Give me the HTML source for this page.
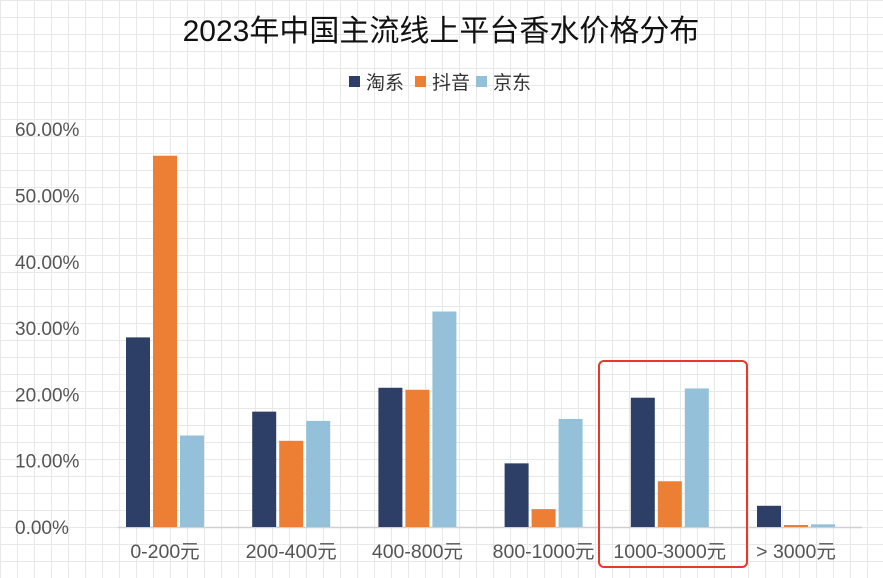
<!DOCTYPE html>
<html><head><meta charset="utf-8"><style>
body{margin:0;width:883px;height:578px;overflow:hidden;background:#fff;
background-image:linear-gradient(#e8e8e8 1px,transparent 1px),linear-gradient(90deg,#e8e8e8 1px,transparent 1px);
background-size:17px 17px;font-family:"Liberation Sans","Noto Sans CJK SC",sans-serif}
</style></head><body>
<svg id="chart" width="883" height="578" style="position:absolute;left:0;top:0">
<text x="441" y="41" text-anchor="middle" font-size="30" fill="#111" font-family="Liberation Sans, Noto Sans CJK SC, sans-serif">2023年中国主流线上平台香水价格分布</text>
<g font-size="19" fill="#333" font-family="Liberation Sans, Noto Sans CJK SC, sans-serif">
<rect x="349" y="76" width="11" height="11" fill="#2e3f67"/><text x="366" y="89">淘系</text>
<rect x="415" y="76" width="11" height="11" fill="#ec7f34"/><text x="432" y="89">抖音</text>
<rect x="476" y="76" width="11" height="11" fill="#94c0d9"/><text x="493" y="89">京东</text>
</g>
<g id="plot"></g>
<rect x="599" y="361" width="148" height="206" rx="5" fill="none" stroke="#e8372c" stroke-width="2"/>
</svg>
<script>
const categories=["0-200元","200-400元","400-800元","800-1000元","1000-3000元","> 3000元"];
const taoxi=[28.6,17.4,21.0,9.6,19.5,3.2];
const douyin=[56.0,13.0,20.7,2.7,6.9,0.3];
const jd=[13.8,16.0,32.5,16.3,20.9,0.4];
const yTicks=[0,10,20,30,40,50,60];
const series=[{n:"taoxi",v:taoxi,c:"#2e3f67"},{n:"douyin",v:douyin,c:"#ec7f34"},{n:"jd",v:jd,c:"#94c0d9"}];
const NS="http://www.w3.org/2000/svg";
const g=document.getElementById("plot");
const y=v=>527-v*6.63;
const xc=i=>165+i*126.2;
function mk(t,a){const e=document.createElementNS(NS,t);for(const k in a)e.setAttribute(k,a[k]);g.appendChild(e);return e;}
yTicks.forEach(t=>{const e=mk("text",{x:15,y:y(t)+7,"font-size":19,fill:"#555","font-family":"Liberation Sans, sans-serif"});e.textContent=t.toFixed(2)+"%";

});
const ax=mk("line",{x1:118,x2:862,y1:527.5,y2:527.5,stroke:"#d0d0d0","stroke-width":1.5});


categories.forEach((c,i)=>{
series.forEach((s,j)=>{const v=s.v[i];const h=v*6.63;
const r=mk("rect",{x:xc(i)-39+j*27,y:527-h,width:24,height:Math.max(h,1),fill:s.c});

});
const t=mk("text",{x:xc(i),y:558,"text-anchor":"middle","font-size":19.5,fill:"#555","font-family":"Liberation Sans, Noto Sans CJK SC, sans-serif"});t.textContent=c;


});
</script>
</body></html>
